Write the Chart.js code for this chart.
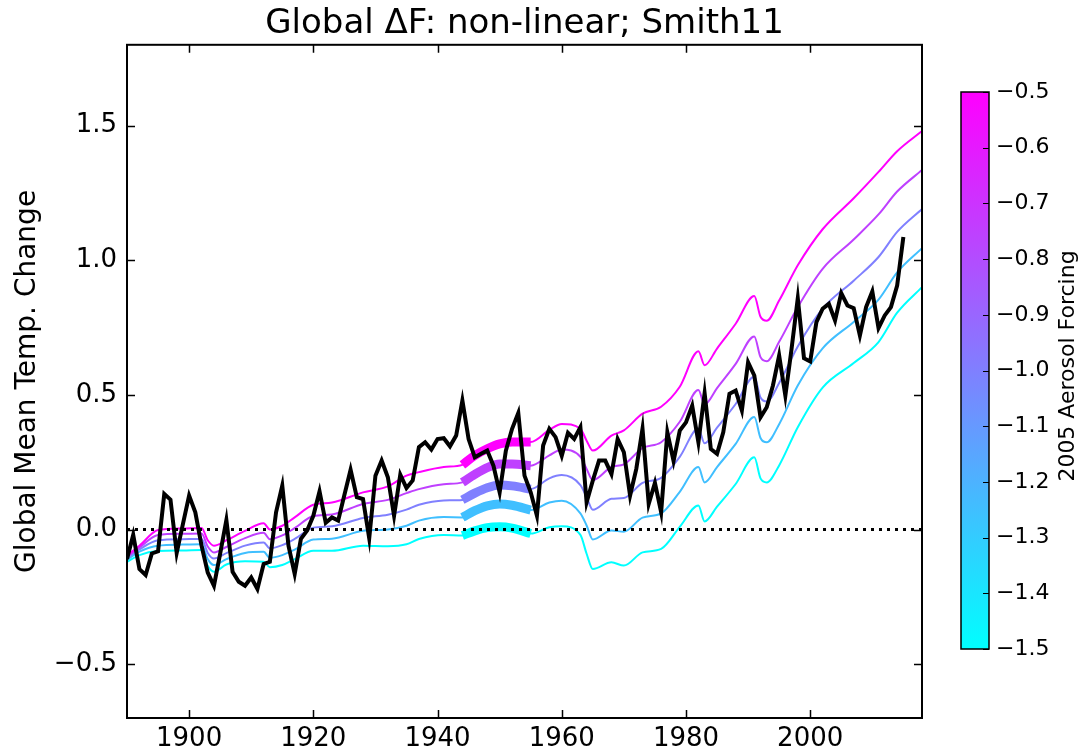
<!DOCTYPE html>
<html>
<head>
<meta charset="utf-8">
<title>Global ΔF: non-linear; Smith11</title>
<script src="https://cdn.jsdelivr.net/npm/chart.js@4.4.1/dist/chart.umd.min.js"></script>
<style>
  html, body { margin: 0; padding: 0; background: #fff; }
  #wrap { width: 1083px; height: 754px; }
</style>
</head>
<body>
<div id="wrap"><canvas id="chart" width="1083" height="754"></canvas></div>
<script>
// Axis ticks
var xTicks = [1900, 1920, 1940, 1960, 1980, 2000];
var yTicks = [-0.5, 0.0, 0.5, 1.0, 1.5];
var cbTicks = [-0.5, -0.6, -0.7, -0.8, -0.9, -1.0, -1.1, -1.2, -1.3, -1.4, -1.5];

// Observed global mean temperature (black line), one value per year from 1890
var obsStart = 1890;
var obsTemp = [
    -0.11, -0.02, -0.147, -0.169, -0.089, -0.081, 0.132, 0.111, -0.087, 0.02,
    0.126, 0.064, -0.06, -0.16, -0.209, -0.09, 0.035, -0.157, -0.194, -0.209,
    -0.178, -0.221, -0.128, -0.12, 0.064, 0.163, -0.06, -0.165, -0.035, -0.004,
    0.051, 0.142, 0.025, 0.045, 0.033, 0.128, 0.222, 0.12, 0.113, -0.033,
    0.2, 0.256, 0.194, 0.051, 0.204, 0.154, 0.182, 0.306, 0.324, 0.297,
    0.336, 0.339, 0.309, 0.349, 0.479, 0.336, 0.268, 0.281, 0.293, 0.237,
    0.138, 0.293, 0.374, 0.433, 0.2, 0.138, 0.051, 0.312, 0.374, 0.343,
    0.274, 0.359, 0.336, 0.38, 0.101, 0.182, 0.256, 0.256, 0.206, 0.336,
    0.287, 0.126, 0.225, 0.374, 0.095, 0.173, 0.064, 0.361, 0.254, 0.367,
    0.398, 0.46, 0.324, 0.506, 0.299, 0.281, 0.361, 0.504, 0.516, 0.442,
    0.621, 0.572, 0.417, 0.454, 0.535, 0.646, 0.497, 0.671, 0.859, 0.636,
    0.624, 0.77, 0.82, 0.838, 0.776, 0.878, 0.832, 0.822, 0.72, 0.826,
    0.884, 0.748, 0.795, 0.826, 0.906, 1.086
];

// Model runs, one per 2005 aerosol forcing value
var aerosolForcing = [-0.5, -0.75, -1.0, -1.25, -1.5];
var modelYears = [1890, 1892, 1895, 1899, 1902, 1903, 1904, 1906, 1909, 1912,
    1913, 1915, 1917, 1920, 1923, 1928, 1932, 1935, 1937, 1941,
    1944, 1946, 1948, 1950, 1952, 1955, 1958, 1960, 1963, 1964,
    1965, 1968, 1970, 1973, 1976, 1979, 1982, 1983, 1985, 1988,
    1991, 1992, 1993, 1995, 1998, 2002, 2007, 2011, 2014, 2018];
var run050 = [-0.097, -0.06, -0.002, 0.004, 0.006, -0.04, -0.06, -0.04, -0.005, 0.023,
    0.0, 0.014, 0.045, 0.092, 0.1, 0.138, 0.16, 0.2, 0.213, 0.232,
    0.24, 0.275, 0.3, 0.318, 0.325, 0.325, 0.37, 0.392, 0.374, 0.33,
    0.293, 0.349, 0.368, 0.43, 0.456, 0.53, 0.662, 0.61, 0.672, 0.764,
    0.867, 0.79, 0.775, 0.85, 0.981, 1.115, 1.23, 1.328, 1.405, 1.48];
var run075 = [-0.102, -0.067, -0.02, -0.016, -0.015, -0.063, -0.085, -0.065, -0.032, -0.012,
    -0.036, -0.022, 0.005, 0.05, 0.056, 0.095, 0.11, 0.135, 0.15, 0.168,
    0.175, 0.205, 0.23, 0.243, 0.243, 0.237, 0.275, 0.297, 0.27, 0.225,
    0.183, 0.232, 0.242, 0.302, 0.324, 0.4, 0.518, 0.465, 0.525, 0.615,
    0.717, 0.64, 0.625, 0.697, 0.826, 0.968, 1.077, 1.17, 1.255, 1.335];
var run100 = [-0.107, -0.074, -0.04, -0.036, -0.035, -0.087, -0.108, -0.088, -0.06, -0.048,
    -0.07, -0.058, -0.035, 0.007, 0.012, 0.043, 0.055, 0.074, 0.092, 0.108,
    0.11, 0.135, 0.155, 0.165, 0.162, 0.15, 0.19, 0.202, 0.165, 0.12,
    0.073, 0.114, 0.117, 0.173, 0.192, 0.27, 0.375, 0.32, 0.378, 0.466,
    0.567, 0.49, 0.475, 0.544, 0.68, 0.82, 0.924, 1.012, 1.105, 1.19];
var run125 = [-0.112, -0.082, -0.06, -0.056, -0.055, -0.11, -0.132, -0.11, -0.087, -0.083,
    -0.105, -0.095, -0.075, -0.037, -0.034, -0.005, 0.0, 0.014, 0.033, 0.046,
    0.045, 0.07, 0.088, 0.095, 0.09, 0.072, 0.1, 0.107, 0.06, 0.015,
    -0.037, -0.004, -0.008, 0.044, 0.06, 0.14, 0.232, 0.175, 0.232, 0.318,
    0.418, 0.34, 0.324, 0.391, 0.535, 0.673, 0.771, 0.854, 0.955, 1.045];
var run150 = [-0.12, -0.095, -0.08, -0.078, -0.076, -0.135, -0.157, -0.13, -0.118, -0.12,
    -0.14, -0.132, -0.11, -0.079, -0.079, -0.06, -0.062, -0.055, -0.035, -0.02,
    -0.022, -0.005, 0.007, 0.01, 0.005, -0.015, 0.008, 0.012, -0.02, -0.09,
    -0.147, -0.122, -0.134, -0.085, -0.072, 0.01, 0.089, 0.03, 0.085, 0.169,
    0.268, 0.19, 0.175, 0.238, 0.38, 0.527, 0.618, 0.696, 0.805, 0.9];

// calibration window drawn thick
var fitStart = 1944;
var fitEnd = 1955;

// zero reference line
var zeroYears = [1890, 2018];
var zeroVals = [0, 0];

var cbMin = -1.5, cbMax = -0.5;

// "cool" colormap: cyan -> magenta
function coolColor(f) {
    var t = (f - cbMin) / (cbMax - cbMin);
    return 'rgb(' + Math.round(255 * t) + ',' + Math.round(255 * (1 - t)) + ',255)';
}

function minusFmt(v, d) {
    return (v < 0 ? '\u2212' : '') + Math.abs(v).toFixed(d);
}

var datasets = [];
datasets.push({
    label: 'Observed',
    data: obsTemp.map(function(v, i) { return {x: obsStart + i, y: v}; }),
    borderColor: '#000',
    borderWidth: 4,
    order: 0
});
datasets.push({
    label: 'zero',
    data: zeroYears.map(function(y, i) { return {x: y, y: zeroVals[i]}; }),
    borderColor: '#000',
    borderWidth: 3,
    borderDash: [3, 5],
    order: 1
});
[run050, run075, run100, run125, run150].forEach(function(vals, k) {
    var col = coolColor(aerosolForcing[k]);
    var thick = [];
    var thin = [];
    modelYears.forEach(function(y, i) {
        thin.push({x: y, y: vals[i]});
        if (y >= fitStart && y <= fitEnd) thick.push({x: y, y: vals[i]});
    });
    datasets.push({
        label: 'fit ' + aerosolForcing[k],
        data: thick,
        borderColor: col,
        borderWidth: 9,
        cubicInterpolationMode: 'monotone',
        order: 2
    });
    datasets.push({
        label: 'run ' + aerosolForcing[k],
        data: thin,
        borderColor: col,
        borderWidth: 2,
        cubicInterpolationMode: 'monotone',
        order: 3
    });
});

// Frame, inward ticks and colorbar
var framePlugin = {
    id: 'frame',
    afterDraw: function(chart) {
        var ctx = chart.ctx;
        var a = chart.chartArea;
        var xs = chart.scales.x, ys = chart.scales.y;
        ctx.save();
        ctx.strokeStyle = '#000';
        ctx.lineWidth = 1.5;
        ctx.beginPath();
        xTicks.forEach(function(v) {
            var px = Math.round(xs.getPixelForValue(v)) + 0.5;
            ctx.moveTo(px, a.bottom); ctx.lineTo(px, a.bottom - 8);
            ctx.moveTo(px, a.top); ctx.lineTo(px, a.top + 8);
        });
        yTicks.forEach(function(v) {
            var py = Math.round(ys.getPixelForValue(v)) + 0.5;
            ctx.moveTo(a.left, py); ctx.lineTo(a.left + 8, py);
            ctx.moveTo(a.right, py); ctx.lineTo(a.right - 8, py);
        });
        ctx.stroke();
        ctx.lineWidth = 2;
        ctx.strokeRect(a.left, a.top, a.right - a.left, a.bottom - a.top);

        // Colorbar
        var cbL = 961, cbW = 28, cbTop = 92, cbBot = 649;
        var grad = ctx.createLinearGradient(0, cbTop, 0, cbBot);
        grad.addColorStop(0, coolColor(cbMax));
        grad.addColorStop(1, coolColor(cbMin));
        ctx.fillStyle = grad;
        ctx.fillRect(cbL, cbTop, cbW, cbBot - cbTop);
        ctx.lineWidth = 1.5;
        ctx.strokeRect(cbL, cbTop, cbW, cbBot - cbTop);
        ctx.fillStyle = '#000';
        ctx.font = '22px "DejaVu Sans"';
        ctx.textAlign = 'left';
        ctx.textBaseline = 'middle';
        ctx.lineWidth = 1;
        ctx.beginPath();
        cbTicks.forEach(function(v) {
            var py = cbTop + (cbMax - v) / (cbMax - cbMin) * (cbBot - cbTop);
            ctx.moveTo(cbL + cbW, Math.round(py) + 0.5);
            ctx.lineTo(cbL + cbW - 6, Math.round(py) + 0.5);
            ctx.fillText(minusFmt(v, 1), 996, py);
        });
        ctx.stroke();
        ctx.save();
        ctx.translate(1068, 366);
        ctx.rotate(-Math.PI / 2);
        ctx.textAlign = 'center';
        ctx.font = '22px "DejaVu Sans"';
        ctx.fillText('2005 Aerosol Forcing', 0, 0);
        ctx.restore();
        ctx.restore();
    }
};

Chart.defaults.font.family = '"DejaVu Sans", sans-serif';
Chart.defaults.color = '#000';

new Chart(document.getElementById('chart'), {
    type: 'line',
    data: { datasets: datasets },
    options: {
        responsive: false,
        animation: false,
        devicePixelRatio: 1,
        layout: { padding: { left: 0, right: 161, top: 0, bottom: 0 } },
        elements: {
            point: { radius: 0 },
            line: { tension: 0, fill: false }
        },
        datasets: { line: { clip: 0 } },
        plugins: {
            legend: { display: false },
            tooltip: { enabled: false },
            title: {
                display: true,
                fullSize: false,
                text: 'Global \u0394F: non-linear; Smith11',
                color: '#000',
                font: { size: 34, weight: 'normal' },
                padding: { top: 4, bottom: 0 }
            }
        },
        scales: {
            x: {
                type: 'linear',
                min: 1890,
                max: 2018,
                grid: { display: false, drawTicks: false },
                border: { display: false },
                afterBuildTicks: function(scale) {
                    scale.ticks = xTicks.map(function(v) { return {value: v}; });
                },
                afterFit: function(scale) { scale.height = 36; },
                ticks: {
                    padding: 6,
                    maxRotation: 0,
                    font: { size: 26 },
                    callback: function(v) { return String(v); }
                }
            },
            y: {
                type: 'linear',
                min: -0.7,
                max: 1.8,
                grid: { display: false, drawTicks: false },
                border: { display: false },
                afterBuildTicks: function(scale) {
                    scale.ticks = yTicks.map(function(v) { return {value: v}; });
                },
                afterFit: function(scale) { scale.width = 127; },
                title: {
                    display: true,
                    text: 'Global Mean Temp. Change',
                    font: { size: 28 },
                    padding: { top: 11, bottom: 0 }
                },
                ticks: {
                    padding: 10,
                    font: { size: 26 },
                    callback: function(v) { return minusFmt(v, 1); }
                }
            }
        }
    },
    plugins: [framePlugin]
});
</script>
</body>
</html>
